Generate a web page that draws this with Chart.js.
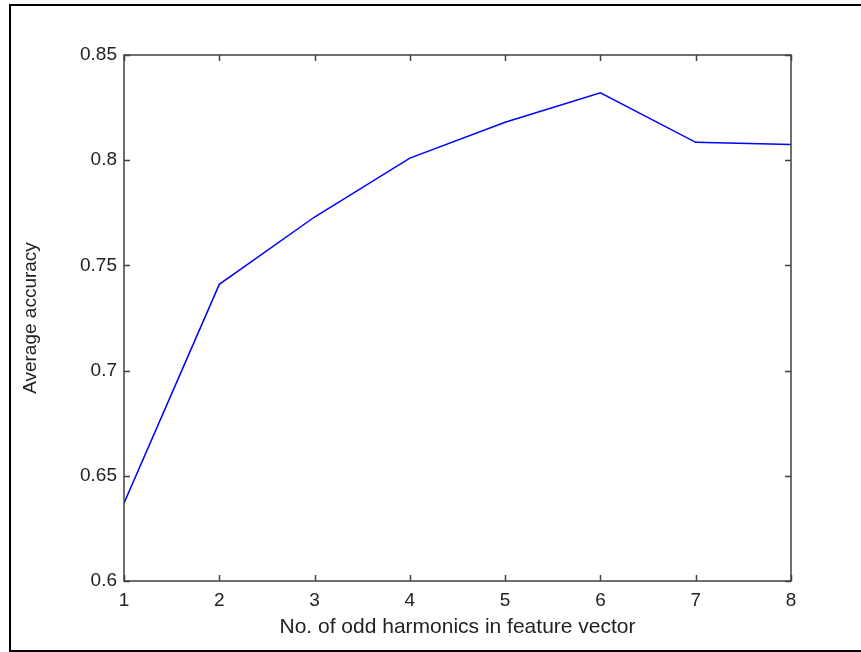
<!DOCTYPE html>
<html>
<head>
<meta charset="utf-8">
<title>Average accuracy</title>
<script src="https://cdn.jsdelivr.net/npm/chart.js@4.4.1/dist/chart.umd.min.js"></script>
<style>
  html, body { margin: 0; padding: 0; background: #fff; overflow: hidden; }
  #wrap { position: relative; width: 861px; height: 652px; }
  #frame {
    position: absolute; left: 9px; top: 4px; width: 900px; height: 644px;
    border: 2px solid #000; pointer-events: none;
  }
</style>
</head>
<body>
<div id="wrap">
  <canvas id="acc" width="861" height="652"></canvas>
  <div id="frame"></div>
</div>
<script>
// harmonics count vs. mean accuracy
const harmonics = [1, 2, 3, 4, 5, 6, 7, 8]
const accuracy = [0.637, 0.741, 0.773, 0.801, 0.818, 0.832, 0.8085, 0.8075]
const yTicks = [0.6, 0.65, 0.7, 0.75, 0.8, 0.85]

const axisColor = '#404040'
const font = { family: 'Liberation Sans, Arial, Helvetica, sans-serif', size: 19 }
const xTitleFont = { family: font.family, size: 21 }

// MATLAB-style box with inward tick marks on all four sides
const boxTicks = {
  id: 'boxTicks',
  afterDatasetsDraw(chart) {
    const { ctx, chartArea: a, scales } = chart
    const len = 6
    ctx.save()
    ctx.strokeStyle = axisColor
    ctx.lineWidth = 1.5
    ctx.strokeRect(a.left, a.top, a.right - a.left, a.bottom - a.top)
    ctx.beginPath()
    scales.x.ticks.forEach((t) => {
      const px = Math.round(scales.x.getPixelForValue(t.value)) + 0.5
      ctx.moveTo(px, a.bottom); ctx.lineTo(px, a.bottom - len)
      ctx.moveTo(px, a.top); ctx.lineTo(px, a.top + len)
    })
    scales.y.ticks.forEach((t) => {
      const py = Math.round(scales.y.getPixelForValue(t.value)) + 0.5
      ctx.moveTo(a.left, py); ctx.lineTo(a.left + len, py)
      ctx.moveTo(a.right, py); ctx.lineTo(a.right - len, py)
    })
    ctx.stroke()
    ctx.restore()
  }
}

const ctx = document.getElementById('acc').getContext('2d')
const accChart = new Chart(ctx, {
  type: 'line',
  data: {
    datasets: [{
      data: harmonics.map((h, i) => ({ x: h, y: accuracy[i] })),
      borderColor: '#0000ff',
      borderWidth: 1.5,
      pointRadius: 0,
      tension: 0,
      fill: false
    }]
  },
  options: {
    responsive: false,
    animation: false,
    layout: { padding: { top: 55, right: 70, left: 0, bottom: 0 } },
    plugins: { legend: { display: false }, tooltip: { enabled: false } },
    scales: {
      x: {
        type: 'linear',
        min: 1,
        max: 8,
        grid: { display: false, drawTicks: false },
        border: { display: false },
        ticks: { stepSize: 1, padding: 8, color: '#222', font: font, maxRotation: 0 },
        title: {
          display: true,
          text: 'No. of odd harmonics in feature vector',
          color: '#222',
          font: xTitleFont,
          padding: { top: 0, bottom: 12 }
        },
        afterFit: (scale) => { scale.height = 71 }
      },
      y: {
        min: 0.6,
        max: 0.85,
        grid: { display: false, drawTicks: false },
        border: { display: false },
        afterBuildTicks: (scale) => { scale.ticks = yTicks.map((v) => ({ value: v })) },
        ticks: {
          padding: 7,
          color: '#222',
          font: font,
          callback: (v) => String(parseFloat(Number(v).toFixed(2)))
        },
        title: {
          display: true,
          text: 'Average accuracy',
          color: '#222',
          font: font,
          padding: { top: 19, bottom: 0 }
        },
        afterFit: (scale) => { scale.width = 124 }
      }
    }
  },
  plugins: [boxTicks]
})
</script>
</body>
</html>
